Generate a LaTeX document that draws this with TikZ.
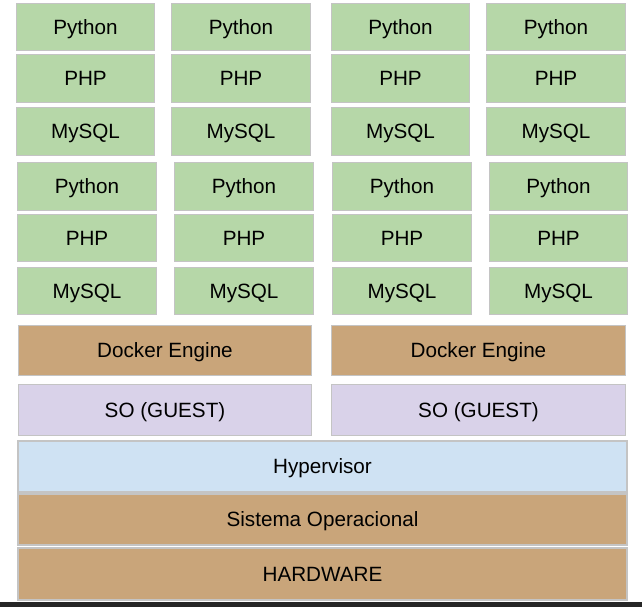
\documentclass[tikz,border=0pt]{standalone}
\usepackage{fontspec}
\setmainfont{Liberation Sans}
\definecolor{appgreen}{HTML}{B6D7A8}
\definecolor{enginebrown}{HTML}{C9A57A}
\definecolor{guestlilac}{HTML}{D9D2E9}
\definecolor{hyperblue}{HTML}{CFE2F3}
\definecolor{boxline}{HTML}{C4C4C4}
\definecolor{basebar}{HTML}{262626}
\tikzset{
  layer/.style={draw=boxline,line width=0.9pt,inner sep=0pt,anchor=center,
    text height=11.1pt,text depth=0pt,
    font=\fontsize{15.5}{18}\selectfont},
  app/.style={layer,fill=appgreen,minimum width=104pt,minimum height=35.5pt},
  engine/.style={layer,fill=enginebrown,minimum width=220pt,minimum height=38pt},
  guest/.style={layer,fill=guestlilac,minimum width=220pt,minimum height=38.5pt},
  host/.style={layer,minimum width=456.75pt,minimum height=38.25pt}
}
\begin{document}
\begin{tikzpicture}[x=0.75pt,y=-0.75pt]
    \useasboundingbox (0,0) rectangle (642,607);

    % upper stacks
    \node [app] (py1) at (85.5, 27) {Python};
    \node [app] (py2) at (241, 27) {Python};
    \node [app] (py3) at (400.5, 27) {Python};
    \node [app] (py4) at (556, 27) {Python};
    \node [app] (php1) at (85.5, 78.5) {PHP};
    \node [app] (php2) at (241, 78.5) {PHP};
    \node [app] (php3) at (400.5, 78.5) {PHP};
    \node [app] (php4) at (556, 78.5) {PHP};
    \node [app] (sql1) at (85.5, 131.5) {MySQL};
    \node [app] (sql2) at (241, 131.5) {MySQL};
    \node [app] (sql3) at (400.5, 131.5) {MySQL};
    \node [app] (sql4) at (556, 131.5) {MySQL};

    % lower stacks
    \node [app] (py5) at (87, 186.5) {Python};
    \node [app] (py6) at (244, 186.5) {Python};
    \node [app] (py7) at (402, 186.5) {Python};
    \node [app] (py8) at (558.5, 186.5) {Python};
    \node [app] (php5) at (87, 238) {PHP};
    \node [app] (php6) at (244, 238) {PHP};
    \node [app] (php7) at (402, 238) {PHP};
    \node [app] (php8) at (558.5, 238) {PHP};
    \node [app] (sql5) at (87, 291) {MySQL};
    \node [app] (sql6) at (244, 291) {MySQL};
    \node [app] (sql7) at (402, 291) {MySQL};
    \node [app] (sql8) at (558.5, 291) {MySQL};

    \node [engine] (eng1) at (165, 350.5) {Docker Engine};
    \node [engine] (eng2) at (478.5, 350.5) {Docker Engine};

    \node [guest] (so1) at (165, 410) {SO (GUEST)};
    \node [guest] (so2) at (478.5, 410) {SO (GUEST)};

    \node [host,fill=hyperblue] (hyp) at (322.5, 466.5) {Hypervisor};
    \node [host,fill=enginebrown] (sys) at (322.5, 519.5) {Sistema Operacional};
    \node [host,fill=enginebrown,minimum height=39pt] (hw) at (322.5, 574) {HARDWARE};

    \fill [basebar] (0, 602) rectangle (642, 607);
  \end{tikzpicture}
\end{document}
